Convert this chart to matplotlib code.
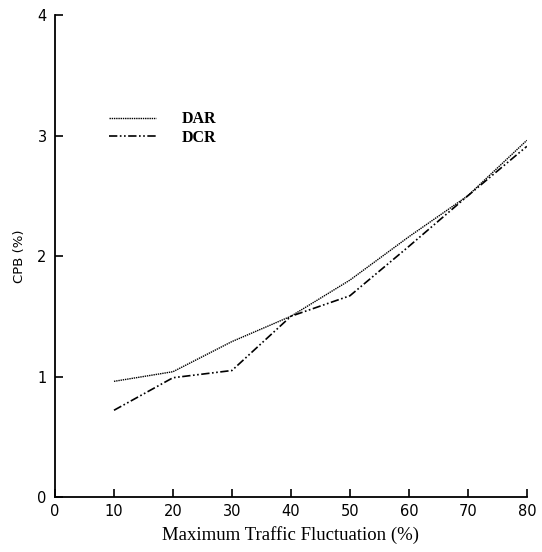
import matplotlib
matplotlib.use("Agg")
import matplotlib.pyplot as plt

x = [10, 20, 30, 40, 50, 60, 70, 80]
dar = [0.96, 1.04, 1.29, 1.50, 1.80, 2.16, 2.50, 2.96]
dcr = [0.72, 0.99, 1.05, 1.50, 1.67, 2.08, 2.50, 2.91]
xticks = [0, 10, 20, 30, 40, 50, 60, 70, 80]
yticks = [0, 1, 2, 3, 4]

fig = plt.figure(figsize=(5.42, 5.52), dpi=100)
ax = fig.add_axes([0.1015, 0.0996, 0.8705, 0.8732])

ax.plot(x, dar, color="black", lw=1.0, linestyle=(0, (1, 0.6)), label="DAR")
ax.plot(x, dcr, color="black", lw=1.2, linestyle=(0, (5, 1.5, 1, 1.5, 1, 1.5)), label="DCR")

ax.set_xlim(0, 80)
ax.set_ylim(0, 4)
ax.set_xticks(xticks)
ax.set_yticks(yticks)
ax.spines["top"].set_visible(False)
ax.spines["right"].set_visible(False)
ax.spines["left"].set_linewidth(1.3)
ax.spines["bottom"].set_linewidth(1.3)
ax.tick_params(direction="in", length=6, width=1.2, labelsize=10.5)
ax.tick_params(axis="x", pad=5)
ax.tick_params(axis="y", pad=6)
for lab in ax.get_xticklabels() + ax.get_yticklabels():
    lab.set_fontfamily("DejaVu Sans")
    lab.set_fontweight("medium")

ax.set_xlabel("Maximum Traffic Fluctuation (%)", family="Liberation Serif", fontsize=13.5, labelpad=5)
ax.set_ylabel("CPB (%)", family="DejaVu Sans", fontsize=9.5, labelpad=8)

leg = ax.legend(loc="upper left", bbox_to_anchor=(0.085, 0.83), frameon=False,
                handlelength=2.9, handletextpad=1.6, labelspacing=0.15,
                prop={"family": "Liberation Serif", "weight": "bold", "size": 11.5})

fig.savefig("out.png", dpi=100)
